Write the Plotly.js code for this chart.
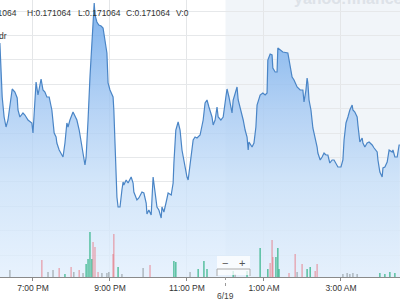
<!DOCTYPE html>
<html>
<head>
<meta charset="utf-8">
<script src="https://cdn.plot.ly/plotly-3.0.1.min.js"></script>
<style>html,body{margin:0;padding:0;background:#fff;}#chart{width:400px;height:300px;}</style>
</head>
<body>
<div id="chart"></div>
<script>
// Clock time in hours (values above 24 are the next day, 6/19)
const times = [
18.14,18.20,18.25,18.30,18.35,18.40,18.46,18.53,18.59,18.61,
18.66,18.74,18.79,18.87,18.97,19.00,19.08,19.13,19.21,19.26,
19.31,19.36,19.42,19.49,19.55,19.60,19.62,19.68,19.75,19.78,
19.83,19.88,19.91,19.96,20.04,20.09,20.14,20.20,20.25,20.30,
20.35,20.38,20.40,20.43,20.48,20.53,20.56,20.59,20.61,20.66,
20.71,20.77,20.82,20.87,20.92,20.95,21.00,21.08,21.10,21.13,
21.16,21.18,21.21,21.26,21.31,21.34,21.36,21.42,21.47,21.55,
21.60,21.62,21.70,21.75,21.83,21.88,21.94,21.96,22.01,22.07,
22.12,22.14,22.17,22.22,22.27,22.33,22.35,22.40,22.46,22.51,
22.59,22.64,22.66,22.71,22.77,22.82,22.87,22.90,22.95,23.00,
23.03,23.08,23.16,23.21,23.26,23.34,23.42,23.47,23.52,23.57,
23.65,23.68,23.73,23.78,23.81,23.88,23.94,24.01,24.04,24.09,
24.17,24.20,24.25,24.30,24.33,24.40,24.46,24.51,24.56,24.59,
24.61,24.69,24.74,24.79,24.82,24.90,24.97,25.03,25.08,25.10,
25.16,25.21,25.23,25.29,25.34,25.36,25.42,25.49,25.62,25.68,
25.73,25.78,25.86,25.94,26.01,26.04,26.09,26.12,26.14,26.17,
26.22,26.27,26.33,26.38,26.40,26.46,26.51,26.56,26.61,26.66,
26.71,26.77,26.82,26.87,26.92,27.00,27.05,27.08,27.13,27.18,
27.23,27.29,27.31,27.36,27.42,27.44,27.49,27.55,27.57,27.62,
27.68,27.73,27.81,27.86,27.94,27.96,28.01,28.07,28.09,28.14,
28.20,28.25,28.33,28.35,28.40,28.46,28.51,28.53
];
const prices = [
0.17107,0.17053,0.17033,0.17023,0.17030,0.17047,0.17061,0.17058,0.17052,0.17040,
0.17033,0.17037,0.17035,0.17030,0.17027,0.17017,0.17068,0.17055,0.17071,0.17060,
0.17058,0.17053,0.17053,0.17040,0.17017,0.17013,0.17007,0.17000,0.16996,0.16993,
0.17007,0.17027,0.17023,0.17030,0.17038,0.17033,0.17030,0.17020,0.17007,0.16997,
0.16985,0.16993,0.17013,0.17030,0.17073,0.17107,0.17130,0.17147,0.17135,0.17128,
0.17125,0.17124,0.17122,0.17108,0.17097,0.17067,0.17060,0.17053,0.17040,0.17007,
0.16973,0.16953,0.16943,0.16943,0.16960,0.16968,0.16965,0.16970,0.16967,0.16973,
0.16967,0.16958,0.16950,0.16952,0.16958,0.16957,0.16947,0.16936,0.16940,0.16935,
0.16973,0.16967,0.16957,0.16943,0.16940,0.16932,0.16943,0.16938,0.16948,0.16957,
0.16955,0.16967,0.16987,0.17020,0.17028,0.17020,0.17000,0.16993,0.16983,0.16973,
0.16970,0.16987,0.17010,0.17013,0.17012,0.17015,0.17030,0.17047,0.17050,0.17043,
0.17033,0.17025,0.17030,0.17043,0.17033,0.17030,0.17033,0.17053,0.17061,0.17053,
0.17037,0.17050,0.17057,0.17063,0.17050,0.17040,0.17030,0.17020,0.17013,0.17000,
0.17008,0.17003,0.17007,0.17023,0.17045,0.17055,0.17057,0.17055,0.17057,0.17090,
0.17096,0.17095,0.17082,0.17078,0.17078,0.17102,0.17100,0.17098,0.17097,0.17083,
0.17073,0.17070,0.17063,0.17060,0.17060,0.17048,0.17060,0.17072,0.17067,0.17050,
0.17040,0.17022,0.17012,0.17003,0.16997,0.16990,0.16993,0.16997,0.16995,0.16995,
0.16987,0.16990,0.16990,0.16987,0.16983,0.16983,0.16990,0.17010,0.17027,0.17033,
0.17040,0.17045,0.17040,0.17038,0.17033,0.17025,0.17008,0.17012,0.17007,0.17003,
0.17007,0.17008,0.17005,0.17002,0.16998,0.16990,0.16978,0.16973,0.16982,0.16983,
0.16988,0.17000,0.16998,0.17000,0.16993,0.16993,0.17005,0.17005
];
const volTimes = [
18.40,19.23,19.39,19.52,19.68,19.83,19.99,20.06,20.20,20.30,
20.38,20.43,20.48,20.53,20.56,20.61,20.69,20.79,20.92,20.97,
21.08,21.10,21.21,21.31,21.86,22.04,22.66,22.71,23.08,23.29,
23.44,23.52,24.20,24.25,24.56,24.90,25.10,25.16,25.21,25.23,
25.31,25.36,25.39,25.65,25.81,25.86,25.99,26.12,26.20,26.33,
26.38,27.05,27.16,27.23,27.31,27.42,28.01,28.14,28.27,28.40
];
const volumes = [
7000,17000,5000,7000,9000,3000,10000,5000,7000,4000,
13000,18000,45000,18000,35000,30000,5000,4000,4000,5000,
23000,43000,10000,3000,9000,12000,16000,15000,5000,8000,
16000,8000,6000,3000,6000,29000,8000,14000,37000,20000,
20000,29000,8000,4000,23000,5000,13000,8000,10000,6000,
13000,3000,4000,3000,4000,3000,4000,3000,5000,4000
];
const volDirection = [
'f','d','f','f','d','u','d','f','d','f',
'u','u','u','u','d','d','d','f','f','f',
'd','d','u','f','f','d','u','u','f','u',
'u','u','u','f','u','u','u','d','d','d',
'u','u','u','d','d','f','d','u','u','d',
'd','f','f','f','f','f','u','u','u','u'
];
const tickHours = [19, 21, 23, 25, 27];
const tickLabels = ['7:00 PM', '9:00 PM', '11:00 PM', '1:00 AM', '3:00 AM'];
const dayBreakHour = 24;
const dayBreakLabel = '6/19';
const headerLabels = ['O', 'H', 'L', 'C', 'V'];
const headerValues = ['0.171064', '0.171064', '0.171064', '0.171064', '0'];
const seriesLabel = 'dr';
const watermark = 'yahoo!finance';

// ---- presentation ----
const W = 400, PLOT_H = 277;
const xMin = 18.143, xMax = 28.533;
const yMin = 0.16873, yMax = 0.1715;
const px2h = p => xMin + p * (xMax - xMin) / W;
const py2paper = p => (PLOT_H - p) / PLOT_H;
const dirColor = {u: 'rgba(30,172,122,0.8)', d: 'rgba(232,112,124,0.6)', f: 'rgba(90,100,100,0.45)'};
const FONT = 'Liberation Sans, Arial, sans-serif';

const priceTrace = {
  x: times, y: prices, type: 'scatter', mode: 'lines',
  line: {color: '#4a85c6', width: 1.2},
  fill: 'tozeroy',
  fillgradient: {type: 'vertical', start: yMin, stop: yMax,
    colorscale: [[0, 'rgba(226,239,253,0.8)'], [0.35, 'rgba(199,223,248,0.8)'], [0.6, 'rgba(165,201,243,0.8)'],
                 [0.85, 'rgba(119,174,236,0.8)'], [1, 'rgba(96,159,231,0.8)']]},
  hoverinfo: 'skip', showlegend: false
};
const volTrace = {
  x: volTimes, y: volumes, type: 'bar', yaxis: 'y2', width: 0.035,
  marker: {color: volDirection.map(d => dirColor[d]), line: {width: 0}},
  hoverinfo: 'skip', showlegend: false
};

const headerX = [19, 25, 76, 124, 174];
const annotations = headerLabels.map((l, i) => ({
  text: l + ':' + headerValues[i], xref: 'paper', yref: 'paper',
  x: headerX[i] / W, y: py2paper(13), xanchor: i === 0 ? 'right' : 'left', yanchor: 'middle',
  showarrow: false, font: {family: FONT, size: 8.5, color: '#333'}
}));
annotations.push({text: seriesLabel, xref: 'paper', yref: 'paper', x: 9 / W, y: py2paper(36),
  xanchor: 'right', yanchor: 'middle', showarrow: false, font: {family: FONT, size: 8.5, color: '#333'}});
annotations.push({text: '<b>' + watermark + '</b>', xref: 'paper', yref: 'paper', x: 292 / W, y: py2paper(-1),
  xanchor: 'left', yanchor: 'middle', showarrow: false, font: {family: FONT, size: 16, color: '#dde2e8'}});
annotations.push({text: dayBreakLabel, xref: 'x', yref: 'paper', x: dayBreakHour, y: py2paper(296),
  xanchor: 'center', yanchor: 'middle', showarrow: false, font: {family: FONT, size: 8.5, color: '#444'}});
annotations.push({text: '−', xref: 'x', yref: 'paper', x: px2h(225), y: py2paper(263),
  xanchor: 'center', yanchor: 'middle', showarrow: false, font: {family: FONT, size: 11, color: '#555'}});
annotations.push({text: '+', xref: 'x', yref: 'paper', x: px2h(242), y: py2paper(263),
  xanchor: 'center', yanchor: 'middle', showarrow: false, font: {family: FONT, size: 11, color: '#555'}});

const shapes = [
  {type: 'rect', xref: 'x', yref: 'paper', x0: dayBreakHour, x1: xMax, y0: 0, y1: 1,
   fillcolor: '#f1f5f9', line: {width: 0}, layer: 'below'},
  {type: 'rect', xref: 'paper', yref: 'paper', x0: 0, x1: 16 / W, y0: py2paper(42), y1: py2paper(30),
   fillcolor: '#ffffff', line: {width: 0}, layer: 'between'},
  {type: 'line', xref: 'x', yref: 'paper', x0: dayBreakHour, x1: dayBreakHour, y0: 0, y1: py2paper(289),
   line: {color: '#999', width: 1, dash: 'dot'}},
  {type: 'rect', xref: 'x', yref: 'paper', x0: px2h(217), x1: px2h(250), y0: py2paper(275), y1: py2paper(256),
   fillcolor: 'rgba(255,255,255,0.75)', line: {width: 0}, layer: 'above'},
  {type: 'line', xref: 'x', yref: 'paper', x0: px2h(217), x1: px2h(250), y0: py2paper(269), y1: py2paper(269),
   line: {color: '#aaa', width: 1}},
  {type: 'line', xref: 'x', yref: 'paper', x0: px2h(217), x1: px2h(217), y0: py2paper(269), y1: py2paper(276),
   line: {color: '#aaa', width: 1}},
  {type: 'line', xref: 'x', yref: 'paper', x0: px2h(250), x1: px2h(250), y0: py2paper(269), y1: py2paper(276),
   line: {color: '#aaa', width: 1}}
];

const layout = {
  width: 400, height: 300,
  margin: {l: 0, r: 0, t: 0, b: 300 - PLOT_H, pad: 0},
  paper_bgcolor: '#ffffff', plot_bgcolor: '#ffffff',
  showlegend: false, hovermode: false,
  xaxis: {range: [xMin, xMax], tickmode: 'array', tickvals: tickHours, ticktext: tickLabels,
    showgrid: true, gridcolor: '#e4e6e8', gridwidth: 1, zeroline: false,
    showline: true, linecolor: '#8a8a8a', linewidth: 1,
    ticks: 'outside', ticklen: 3, tickcolor: '#8a8a8a',
    tickfont: {family: FONT, size: 8.5, color: '#333'}},
  yaxis: {range: [yMin, yMax], tick0: 0.17139, dtick: 0.000244, showticklabels: false,
    showgrid: true, gridcolor: '#e6e8ea', gridwidth: 1, zeroline: false, showline: false, ticks: ''},
  yaxis2: {overlaying: 'y', range: [0, 277000], visible: false, showgrid: false, zeroline: false},
  annotations: annotations, shapes: shapes
};

Plotly.newPlot('chart', [priceTrace, volTrace], layout, {displayModeBar: false, staticPlot: true});
</script>
</body>
</html>
